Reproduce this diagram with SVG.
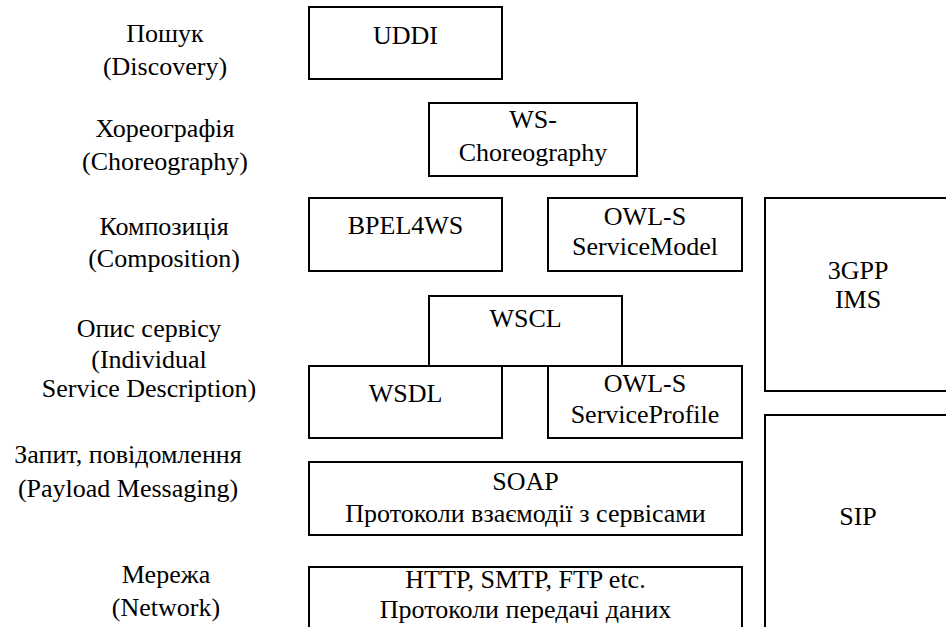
<svg xmlns="http://www.w3.org/2000/svg" width="946" height="627" viewBox="0 0 946 627">
<style>
  .box { fill: #fff; stroke: #000; stroke-width: 2; }
  .t { font-family: Liberation Serif, DejaVu Serif, serif; font-size: 26px; fill: #000; text-anchor: middle; }
</style>
<rect width="946" height="627" fill="#fff"/>
<g id="labels">
  <text class="t" x="165" y="42">Пошук</text>
  <text class="t" x="165" y="75">(Discovery)</text>
  <text class="t" x="165" y="137">Хореографія</text>
  <text class="t" x="165" y="170">(Choreography)</text>
  <text class="t" x="164" y="235">Композиція</text>
  <text class="t" x="164" y="267">(Composition)</text>
  <text class="t" x="149" y="337">Опис сервісу</text>
  <text class="t" x="149" y="368">(Individual</text>
  <text class="t" x="149" y="397">Service Description)</text>
  <text class="t" x="128" y="463">Запит, повідомлення</text>
  <text class="t" x="128" y="497">(Payload Messaging)</text>
  <text class="t" x="166" y="583">Мережа</text>
  <text class="t" x="166" y="616">(Network)</text>
</g>
<g id="uddi">
  <rect class="box" x="309" y="7" width="193" height="72"/>
  <text class="t" x="405.5" y="44">UDDI</text>
</g>
<g id="ws-choreography">
  <rect class="box" x="429" y="103" width="208" height="73"/>
  <text class="t" x="533" y="128">WS-</text>
  <text class="t" x="533" y="161">Choreography</text>
</g>
<g id="bpel4ws">
  <rect class="box" x="309" y="198" width="193" height="73"/>
  <text class="t" x="405.5" y="234">BPEL4WS</text>
</g>
<g id="owls-servicemodel">
  <rect class="box" x="548" y="198" width="194" height="73"/>
  <text class="t" x="645" y="225">OWL-S</text>
  <text class="t" x="645" y="255">ServiceModel</text>
</g>
<g id="wscl">
  <rect class="box" x="429" y="296" width="193" height="70"/>
  <text class="t" x="525.5" y="327">WSCL</text>
</g>
<g id="wsdl">
  <rect class="box" x="309" y="366" width="193" height="72"/>
  <text class="t" x="405.5" y="402">WSDL</text>
</g>
<g id="owls-serviceprofile">
  <rect class="box" x="548" y="366" width="194" height="72"/>
  <text class="t" x="645" y="392">OWL-S</text>
  <text class="t" x="645" y="423">ServiceProfile</text>
</g>
<g id="soap">
  <rect class="box" x="309" y="462" width="433" height="73"/>
  <text class="t" x="525.5" y="490">SOAP</text>
  <text class="t" x="525.5" y="522">Протоколи взаємодії з сервісами</text>
</g>
<g id="http">
  <rect class="box" x="309" y="567" width="433" height="80"/>
  <text class="t" x="525.5" y="588">HTTP, SMTP, FTP etc.</text>
  <text class="t" x="525.5" y="618">Протоколи передачі даних</text>
</g>
<g id="ims">
  <rect class="box" x="765" y="198" width="186" height="193"/>
  <text class="t" x="858" y="279">3GPP</text>
  <text class="t" x="858" y="308">IMS</text>
</g>
<g id="sip">
  <rect class="box" x="765" y="415" width="186" height="230"/>
  <text class="t" x="858" y="525">SIP</text>
</g>
<g id="connectors"></g>
</svg>
